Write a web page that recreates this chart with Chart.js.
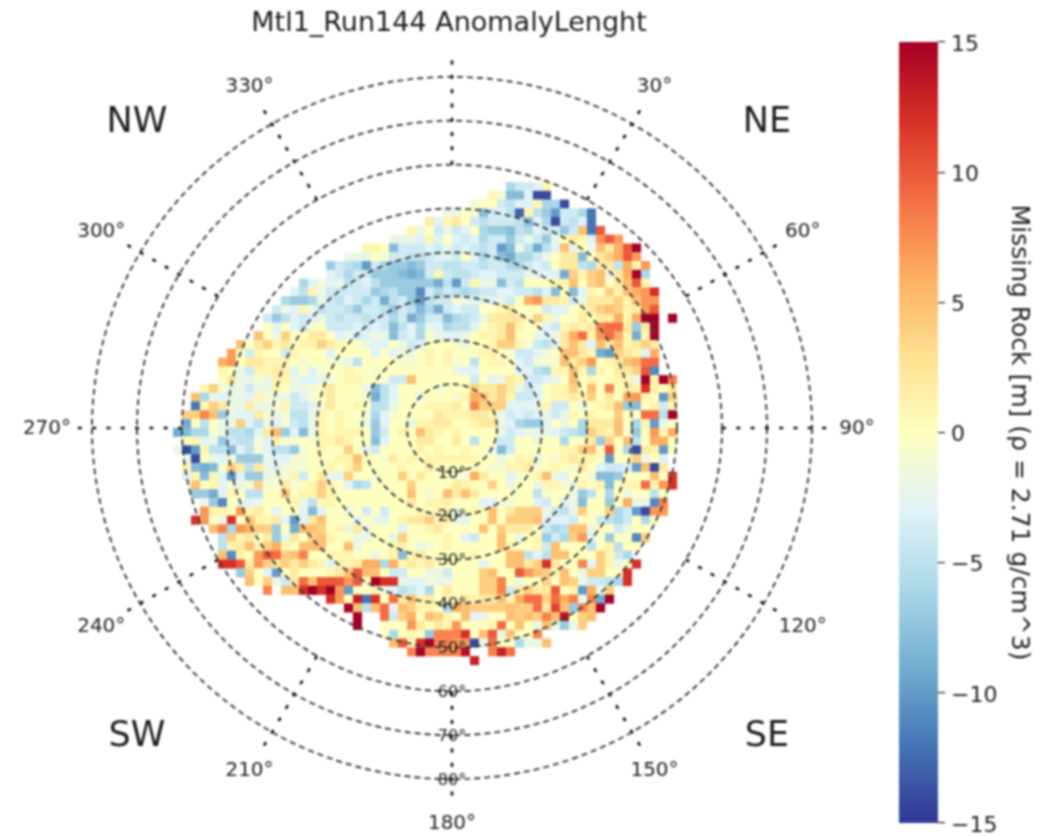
<!DOCTYPE html>
<html>
<head>
<meta charset="utf-8">
<title>Mtl1_Run144 AnomalyLenght</title>
<script src="https://cdn.jsdelivr.net/npm/chart.js@4/dist/chart.umd.min.js"></script>
<style>
  html, body { margin: 0; padding: 0; background: #fff; }
  #wrap { position: relative; width: 1051px; height: 836px; overflow: hidden; }
  canvas { position: absolute; top: 0; filter: blur(0.8px); }
  #polar { left: 0; }
  #cbar { left: 890px; }
</style>
</head>
<body>
<div id="wrap">
  <canvas id="polar" width="1051" height="836"></canvas>
  <canvas id="cbar" width="161" height="836"></canvas>
</div>
<script>
// anomaly per 2 degree cell, top row first. rowStart = column of the first value in the row
const rowStart = [6, 4, 2, -1, -3, -5, -7, -10, -12, -14, -14, -17, -18, -19, -20, -21, -21, -22, -24, -25, -26, -26, -26, -28, -29, -29, -30, -30, -31, -30, -31, -30, -30, -30, -29, -29, -28, -28, -29, -27, -26, -26, -26, -26, -24, -23, -21, -14, -12, -11, -11, -8, -7, -5, 2];
const row00 = [-6,-4,-4,-3,1];
const row01 = [1,-1,-8,-8,-3,-14,-14];
const row02 = [-1,0,0,-4,-5,-3,-3,1,-6,-6,-14];
const row03 = [-2,-2,0,-1,-8,-4,-3,-5,-13,1,-5,-7,-10,-4,-4,-6,-12];
const row04 = [2,-3,1,2,0,-4,-5,-4,-4,-4,-5,-8,-3,-6,-14,-4,-5,-3,-12];
const row05 = [1,-2,0,-4,-2,-4,-3,0,-6,-7,-7,-8,-5,-6,-3,-4,-4,-7,-4,5,-12,10];
const row06 = [-2,-2,-2,-3,1,-3,0,-3,-4,-3,-6,-4,-4,-7,-4,-2,-4,-7,-2,0,2,1,-3,7,10,7];
const row07 = [1,1,0,-8,-4,-4,-4,-3,-4,-2,-4,-3,-4,-5,-4,-10,-8,-2,-5,-9,-5,-3,5,-2,0,-2,5,2,6,10,15];
const row08 = [-2,-2,-2,0,-1,-4,-4,-5,-5,-4,-3,-3,-4,0,-3,-6,-4,-8,-9,-6,-6,-4,-2,0,2,2,-8,0,2,4,6,10,7];
const row09 = [-7,-4,-5,-6,-10,-4,-6,-7,-7,-8,-7,-4,-4,-5,-5,-4,-4,-5,-4,-4,-6,-6,-4,-3,-4,0,2,2,-5,-6,2,2,-5,6,1,7];
const row10 = [-3,-4,-6,-4,-4,-7,-7,-7,-8,-9,-8,-4,1,-4,-5,-5,-4,-3,-3,-4,-4,-4,-2,-3,-3,-3,-9,4,1,4,5,-2,2,6,15,-6];
const row11 = [-6,-3,-1,-3,-2,-5,-4,-3,-5,-7,-7,-7,-7,-7,-7,-9,-5,-10,-4,1,-2,-2,-8,-4,-5,0,0,0,1,1,5,0,4,5,0,2,5,10,1];
const row12 = [-3,-5,1,-2,-4,-4,-4,-4,-4,-7,-6,-5,-7,-7,-11,-4,-6,-4,-5,-6,-5,-4,-4,-3,-3,-4,-4,-5,-3,-8,0,-8,-3,1,0,4,1,5,6,7,12];
const row13 = [-6,-7,-7,-6,-2,-4,-5,-3,-4,-6,-4,-9,-5,-4,-7,-10,-5,-4,-4,-1,-2,-3,-2,-3,-2,-4,0,6,7,2,2,1,-4,-2,2,2,2,4,1,5,7,7];
const row14 = [-4,-2,-3,1,-2,-5,-4,-4,-5,-7,-4,-4,-5,-7,-4,-5,-8,-6,-9,-4,-3,-4,-4,0,0,1,2,0,0,0,-4,-3,-3,0,1,2,4,5,4,1,2,7,10];
const row15 = [-4,-7,-5,-3,-4,-3,-2,-4,-5,-4,-4,-5,-4,-4,-6,-4,-9,-7,-4,-4,-8,-6,-5,-4,-2,2,2,2,2,0,4,1,-2,0,0,2,0,2,2,6,1,6,15,15,null,15];
const row16 = [0,-3,0,-3,-4,-1,0,-4,-4,-4,-3,-4,-3,-4,-8,-5,-3,-6,-2,-3,-6,-5,-5,-3,0,1,2,5,1,0,0,-3,-4,1,2,1,2,8,9,9,2,-7,2,15];
const row17 = [5,0,-2,4,0,0,2,2,0,-3,-2,-4,-3,-2,-2,-8,-4,-3,-6,-1,-2,-3,-3,-2,0,1,1,2,5,0,0,-2,-3,-2,2,6,9,1,7,9,6,1,-9,1,15];
const row18 = [5,0,2,4,1,2,0,1,1,4,2,1,0,0,-2,-3,-3,0,-2,-4,-3,0,0,0,-1,-2,0,0,1,4,4,1,-1,-4,-5,-3,2,5,2,-3,5,2,5,1,2,4,2];
const row19 = [7,0,-4,1,0,0,-4,1,0,0,0,-3,0,0,0,0,-3,0,-3,-1,-2,0,1,0,1,0,0,0,1,1,0,-1,-4,-4,-3,-1,0,5,5,2,1,-9,-10,4,2,1,-3,6];
const row20 = [6,7,0,2,2,1,1,1,0,-1,0,0,-1,-1,-2,-5,0,0,0,0,-1,-1,0,1,0,1,-1,0,-5,0,1,1,0,-3,-4,-1,-1,-1,5,2,4,7,0,1,2,5,6,9,9];
const row21 = [1,0,-2,-4,1,1,2,1,-3,0,-3,-1,0,0,1,0,0,-1,0,0,0,0,0,0,0,0,-2,-3,-3,0,0,0,0,-3,-3,-5,-6,1,1,5,1,-6,1,0,2,2,4,10,-11];
const row22 = [0,2,-2,-2,-1,-2,1,1,-2,-3,-3,-2,-1,0,1,1,0,0,-1,-4,-4,5,0,0,0,0,0,0,-4,0,-3,-2,2,1,-4,-4,-3,-2,0,5,0,1,0,0,1,1,-2,15,1,15,8];
const row23 = [1,4,-1,-2,-2,-4,-2,-2,1,0,-2,-2,-1,0,2,0,0,0,-2,-8,-5,-3,0,0,0,0,-1,0,0,0,4,2,2,4,2,-2,-4,-3,0,1,1,4,0,5,0,8,0,2,1,12,1,0,2];
const row24 = [5,-6,-2,-3,-2,-2,-3,1,-1,-2,-2,-4,-3,-1,0,2,0,0,0,-1,-9,-5,-3,0,0,-2,0,0,0,-1,1,6,5,2,4,1,-4,-4,-3,0,1,1,2,1,4,0,2,0,6,7,1,0,-10,4];
const row25 = [-12,1,4,2,-2,-2,2,-2,-2,-1,1,-4,-4,-3,-1,2,0,0,1,0,-5,-5,-2,0,0,0,1,1,1,2,0,8,4,4,4,-3,-3,-3,-2,1,-4,-4,0,-2,0,1,2,5,-7,-8,0,1,-4,1];
const row26 = [4,4,8,5,-7,-2,-3,-3,2,-1,-2,-1,-5,-5,-2,1,0,1,0,0,-1,-6,-3,-1,0,0,0,0,2,1,1,1,2,2,1,-2,-4,-3,-4,-3,-2,-4,-2,1,0,1,0,0,4,0,0,9,9,-5,15];
const row27 = [-9,0,-5,0,-2,-2,4,-3,-5,-2,-3,-1,-4,-5,-2,1,0,1,0,0,-2,-7,-3,0,0,-2,1,1,2,2,0,0,1,2,2,-2,-3,-6,-7,-7,-3,0,-2,0,-6,2,2,2,5,0,-6,1,-10,-2,0];
const row28 = [-9,-8,-6,-6,-1,-2,-5,-5,-6,-3,2,5,-7,-3,-8,-2,1,0,1,1,1,0,-7,-4,0,1,0,5,2,1,0,1,0,0,0,0,-2,-4,-3,-2,-2,-2,-3,-4,-5,-6,4,2,1,5,-1,-7,0,7,1,6];
const row29 = [0,1,-3,-2,-7,-4,-5,-5,-1,-3,1,-1,-1,0,-1,1,1,2,1,0,0,-8,-3,0,0,0,2,2,0,0,2,0,-5,0,0,-4,-4,0,0,-2,0,0,-6,0,0,2,-7,4,0,5,-5,0,6,6,0];
const row30 = [-2,-14,-10,1,-5,-5,-8,-3,-5,-1,-3,-5,-5,-7,-1,0,1,0,0,4,0,-2,-4,0,0,0,0,1,0,1,0,0,1,0,0,-2,-8,-4,0,0,0,0,0,1,1,4,5,0,10,0,-6,-14,2,1,-10,0];
const row31 = [-2,-14,0,-2,-3,-1,-7,-7,-7,-2,-3,-3,-1,-1,0,0,0,1,1,5,0,0,-1,2,0,1,0,1,1,1,1,1,1,0,0,-2,0,1,1,-2,0,-1,1,2,1,1,0,-10,0,0,4,-2,0,-3];
const row32 = [1,-8,-9,-8,-1,4,2,-5,2,-2,-3,-1,-1,-1,0,0,1,0,1,4,0,0,0,0,1,0,0,2,0,0,0,0,0,0,-1,-1,1,1,2,-1,0,1,0,-1,2,0,-3,-4,-4,-3,-10,5,-14,2];
const row33 = [-3,1,-8,1,-3,-10,-3,-7,-7,-2,-1,-1,1,-4,0,2,-2,-3,4,0,0,-1,0,0,4,0,2,0,0,0,-1,-1,6,2,0,0,-3,-1,0,1,5,-2,-3,0,0,-1,-8,-8,-7,0,0,0,5,0,12];
const row34 = [5,0,1,-3,-1,-2,-1,4,-1,-1,2,-1,0,1,4,1,0,-3,-6,-5,0,0,0,0,4,0,0,0,0,2,1,0,0,4,0,-2,0,0,-2,1,1,-1,-2,1,0,1,-8,0,1,1,9,1,7,12];
const row35 = [-7,-7,-9,-3,1,0,-5,-5,0,0,5,0,1,1,4,1,0,0,0,0,0,0,0,0,5,0,-1,0,5,2,5,2,0,0,0,0,0,0,-5,-1,0,0,-2,-7,-5,0,-6,0,-2,0,0,-5,0];
const row36 = [-2,-7,-11,0,-2,-3,-2,0,0,0,1,-2,-5,1,1,0,0,0,0,0,0,0,0,2,0,1,1,1,0,0,0,-3,-3,-1,-1,0,0,-3,-4,0,-3,-2,-8,0,0,-7,0,6,-2,-2,-11,8];
const row37 = [7,1,1,0,7,1,2,0,-3,0,0,-3,-8,-3,0,0,-2,0,-4,0,-4,0,0,0,1,0,1,1,-2,0,1,0,5,0,2,4,4,4,-2,-4,-5,-2,4,0,0,4,-6,-4,-10,-14,7,7];
const row38 = [12,7,0,-2,12,0,5,1,1,2,-3,-10,-3,2,5,0,0,0,-3,0,-2,-3,0,1,2,2,4,1,2,-2,-3,0,0,5,0,4,4,4,5,-3,-3,-3,-4,0,0,-4,-5,-6,-4,0,-6,0];
const row39 = [5,8,-6,7,6,4,4,-7,0,-9,5,5,4,0,1,-2,2,-2,0,0,0,-3,0,0,1,2,0,0,0,0,5,0,4,2,2,2,0,-4,-6,-5,5,5,-2,0,0,-4,-2,0,0];
const row40 = [-5,4,1,2,0,2,-7,-2,2,0,4,5,1,0,0,-2,-2,0,0,-2,4,0,0,0,0,1,0,-3,-4,0,0,5,0,-2,0,1,-7,-4,-6,4,7,-3,0,-7,0,0,-11,4];
const row41 = [-5,1,2,5,1,4,6,1,0,5,5,5,0,0,5,-2,0,0,0,1,1,0,-2,-1,0,1,0,0,0,0,0,5,1,0,0,1,-4,5,0,0,0,-5,0,1,-5,0,0];
const row42 = [5,-11,1,0,7,10,9,4,5,8,0,0,1,1,1,0,0,-2,0,1,-8,1,2,0,0,0,0,0,1,0,0,0,5,5,-5,-3,-5,5,5,0,0,0,4,1,-4,-6];
const row43 = [12,12,10,2,7,4,2,4,2,4,2,1,-3,1,1,2,6,6,-6,6,1,2,1,2,0,0,0,0,0,-3,0,0,5,5,2,4,12,2,0,0,8,-3,4,1,-2,0,12];
const row44 = [-7,4,0,-3,-10,0,2,0,0,0,1,2,5,10,5,5,0,-4,-4,0,0,-2,-2,-4,0,0,0,4,5,0,0,10,7,5,4,1,5,0,-2,4,4,0,0,12];
const row45 = [5,0,4,-2,-4,2,9,5,10,10,10,7,10,0,15,12,12,-2,-3,-3,-1,-2,-2,0,0,0,4,4,8,0,-2,0,0,4,0,5,4,-2,-4,-4,-5,-6,12];
const row46 = [8,null,5,5,12,15,12,15,7,-10,0,0,1,-2,-3,-5,-4,-3,-6,0,2,0,0,0,4,4,8,-4,2,4,2,2,10,0,1,-10,6,-2,4];
const row47 = [12,7,0,13,-12,12,0,9,2,5,1,2,0,1,1,2,1,2,2,5,1,6,9,9,4,9,6,8,-2,8,-9,15];
const row48 = [15,5,-5,5,9,-3,5,4,1,1,0,-6,6,5,4,4,4,4,5,4,4,9,2,11,5,-7,8,5,15];
const row49 = [15,null,null,9,-4,4,6,0,5,4,1,0,5,-3,-2,0,0,5,4,5,4,8,5,14,0,4,5];
const row50 = [15,null,null,0,0,0,7,2,0,2,1,7,0,0,0,1,9,0,5,0,-2,5,-2,-7,-2,4];
const row51 = [0,-6,0,1,0,-7,8,8,8,12,0,5,10,-2,5,0,0,8];
const row52 = [5,10,1,12,15,8,8,7,7,-14,-2,9,0,0,-6,-2,-2,5];
const row53 = [8,15,8,8,8,8,14,null,null,8,13,9];
const row54 = [13];
const rows = [row00, row01, row02, row03, row04, row05, row06, row07, row08, row09, row10, row11, row12, row13, row14, row15, row16, row17, row18, row19, row20, row21, row22, row23, row24, row25, row26, row27, row28, row29, row30, row31, row32, row33, row34, row35, row36, row37, row38, row39, row40, row41, row42, row43, row44, row45, row46, row47, row48, row49, row50, row51, row52, row53, row54];

const cellSize = 2; // degrees
const zenithTicks = [10, 20, 30, 40, 50, 60, 70, 80];
const azimuthTicks = [0, 30, 60, 90, 120, 150, 180, 210, 240, 270, 300, 330];
const compassLabels = ['NE', 'SE', 'SW', 'NW'];
const colorbarTicks = [-15, -10, -5, 0, 5, 10, 15];
const rdYlBu = ['#313695', '#4575b4', '#74add1', '#abd9e9', '#e0f3f8', '#ffffbf', '#fee090', '#fdae61', '#f46d43', '#d73027', '#a50026'];

function hexToRgb(h) {
  return [1, 3, 5].map(i => parseInt(h.slice(i, i + 2), 16));
}
function colorFor(v) {
  const t = (Math.max(-15, Math.min(15, v)) + 15) / 30 * (rdYlBu.length - 1);
  const i = Math.min(Math.floor(t), rdYlBu.length - 2);
  const a = hexToRgb(rdYlBu[i]), b = hexToRgb(rdYlBu[i + 1]);
  const c = a.map((x, j) => Math.round(x + (b[j] - x) * (t - i)));
  return `rgb(${c[0]},${c[1]},${c[2]})`;
}

const cells = [];
const cellColors = [];
rows.forEach((row, k) => {
  row.forEach((v, n) => {
    if (v === null) return;
    cells.push({ x: (rowStart[k] + n + 0.5) * cellSize, y: (27.5 - k) * cellSize });
    cellColors.push(colorFor(v));
  });
});

const FONT = '"DejaVu Sans", sans-serif';
const INK = '#1c1c1c';

// polar grid and its labels, placed through the chart's x and y scales
const polarGrid = {
  id: 'polarGrid',
  afterDatasetsDraw(chart) {
    const { ctx, scales: { x, y } } = chart;
    const cx = x.getPixelForValue(0), cy = y.getPixelForValue(0);
    const px = v => x.getPixelForValue(v), py = v => y.getPixelForValue(v);
    ctx.save();

    ctx.strokeStyle = '#3a3a3a';
    ctx.lineWidth = 1.9;
    ctx.setLineDash([6, 4]);
    zenithTicks.forEach(z => {
      ctx.beginPath();
      ctx.ellipse(cx, cy, px(z) - cx, cy - py(z), 0, 0, Math.PI * 2);
      ctx.stroke();
    });

    ctx.strokeStyle = '#111';
    ctx.lineWidth = 2.6;
    ctx.setLineDash([4, 10.3]);
    azimuthTicks.forEach(a => {
      const r = a * Math.PI / 180;
      ctx.beginPath();
      ctx.moveTo(px(60 * Math.sin(r)), py(60 * Math.cos(r)));
      ctx.lineTo(px(85 * Math.sin(r)), py(85 * Math.cos(r)));
      ctx.stroke();
    });
    ctx.setLineDash([]);

    ctx.textAlign = 'center';
    ctx.textBaseline = 'middle';
    ctx.fillStyle = INK;
    ctx.font = '16px ' + FONT;
    zenithTicks.forEach(z => ctx.fillText(z + '°', cx, py(-z) + 1.5));

    ctx.font = '20px ' + FONT;
    azimuthTicks.forEach(a => {
      if (a === 0) return;
      const r = a * Math.PI / 180;
      ctx.fillText(a + '°', px(90 * Math.sin(r)), py(90 * Math.cos(r)) + 1);
    });

    ctx.font = '35px ' + FONT;
    compassLabels.forEach(c => {
      const sx = c[1] === 'E' ? 1 : -1, sy = c[0] === 'N' ? 1 : -1;
      ctx.fillText(c, px(70 * sx), py(70 * sy) + 2);
    });
    ctx.restore();
  }
};

new Chart(document.getElementById('polar'), {
  type: 'scatter',
  data: {
    datasets: [{
      data: cells,
      pointStyle: 'rect',
      pointRadius: ctx => {
        const s = ctx.chart.scales.x;
        return (s.getPixelForValue(cellSize) - s.getPixelForValue(0) + 0.1) / Math.SQRT2;
      },
      pointBackgroundColor: cellColors,
      pointBorderWidth: 0,
      clip: false
    }]
  },
  options: {
    responsive: false,
    animation: false,
    events: [],
    layout: { padding: { left: 41, right: 194, top: 10, bottom: 13 } },
    scales: {
      x: { type: 'linear', min: -91.33, max: 90, display: false },
      y: { type: 'linear', min: -90, max: 88.4, display: false }
    },
    plugins: {
      legend: { display: false },
      tooltip: { enabled: false },
      title: {
        display: true,
        text: 'Mtl1_Run144 AnomalyLenght',
        color: INK,
        font: { family: FONT, size: 27, weight: 'normal', lineHeight: 1 },
        padding: { top: 0, bottom: 3 }
      }
    }
  },
  plugins: [polarGrid]
});

new Chart(document.getElementById('cbar'), {
  type: 'bar',
  data: {
    labels: [''],
    datasets: [{
      data: [[colorbarTicks[0], colorbarTicks[colorbarTicks.length - 1]]],
      backgroundColor: ctx => {
        const area = ctx.chart.chartArea;
        if (!area) return rdYlBu[5];
        const g = ctx.chart.ctx.createLinearGradient(0, area.bottom, 0, area.top);
        rdYlBu.forEach((c, i) => g.addColorStop(i / (rdYlBu.length - 1), c));
        return g;
      },
      barPercentage: 1,
      categoryPercentage: 1,
      borderWidth: 0
    }]
  },
  options: {
    responsive: false,
    animation: false,
    events: [],
    layout: { padding: { left: 9, top: 42, bottom: 13 } },
    scales: {
      x: { display: false },
      y: {
        position: 'right',
        min: -15,
        max: 15,
        afterFit: s => { s.width = 113; s.paddingBottom = 0; },
        border: { display: false },
        grid: { drawOnChartArea: false, drawTicks: true, tickLength: 7, color: INK, lineWidth: 1.2 },
        ticks: {
          stepSize: 5,
          padding: 6,
          labelOffset: 3,
          color: INK,
          font: { family: FONT, size: 22 },
          callback: v => String(v).replace('-', '\u2212')
        },
        title: {
          display: true,
          text: 'Missing Rock [m] (ρ = 2.71 g/cm^3)',
          color: INK,
          font: { family: FONT, size: 25 },
          padding: { top: 18, bottom: 0 }
        }
      }
    },
    plugins: { legend: { display: false }, tooltip: { enabled: false } }
  }
});
</script>
</body>
</html>
